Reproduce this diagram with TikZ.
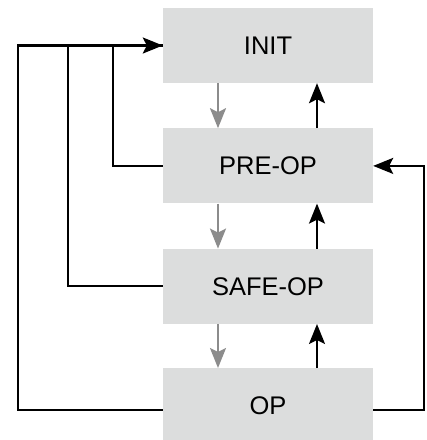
\documentclass[tikz,border=0pt]{standalone}
\usepackage{fontspec}
\setmainfont{Liberation Sans}
\usepackage{tikz}
\usepackage{xcolor}
\usetikzlibrary{arrows.meta, positioning}
\definecolor{cBox}{RGB}{220,221,221}
\definecolor{cGray}{RGB}{140,140,140}
\tikzset{
	statebox/.style ={rectangle, minimum width=210pt, minimum height=75pt, text centered, align=center, fill=cBox, inner sep=0pt},
	downarrow/.style={-{Stealth[length=20pt, width=16pt, inset=4pt]}, line width=2.2pt, cGray},
	uparrow/.style  ={-{Stealth[length=20pt, width=16pt, inset=4pt]}, line width=2.2pt, black},
	backline/.style ={line width=2.2pt, black},
}

\begin{document}
\begin{tikzpicture}[x=1pt, y=-1pt, font=\fontsize{25.5}{30}\selectfont, node distance=45pt]
	\useasboundingbox (0,0) rectangle (427,440);
	% state boxes
	\node[statebox] (init) at (268,45.5) {INIT};
	\node[statebox, below=of init] (preop) {PRE-OP};
	\node[statebox, below=of preop] (safeop) {SAFE-OP};
	\node[statebox, below=44pt of safeop] (op) {OP};
	% forward transitions
	\draw[downarrow] ([xshift=-50pt]init.south) -- ([xshift=-50pt]preop.north);
	\draw[downarrow] ([xshift=-50pt]preop.south) -- ([xshift=-50pt]safeop.north);
	\draw[downarrow] ([xshift=-50pt]safeop.south) -- ([xshift=-50pt]op.north);
	% backward transitions
	\draw[uparrow] ([xshift=49pt]preop.north) -- ([xshift=49pt]init.south);
	\draw[uparrow] ([xshift=49pt]safeop.north) -- ([xshift=49pt]preop.south);
	\draw[uparrow] ([xshift=49pt]op.north) -- ([xshift=49pt]safeop.south);
	% back to INIT
	\draw[backline] (preop.west) -- ++(-50,0) |- (init.west);
	\draw[backline] (safeop.west) -- ++(-95,0) |- (init.west);
	\draw[uparrow] ([yshift=-4.5pt]op.west) -- ++(-145,0) |- (init.west);
	% back to PRE-OP
	\draw[uparrow] ([yshift=-4.5pt]op.east) -- ++(51,0) |- (preop.east);
\end{tikzpicture}
\end{document}
